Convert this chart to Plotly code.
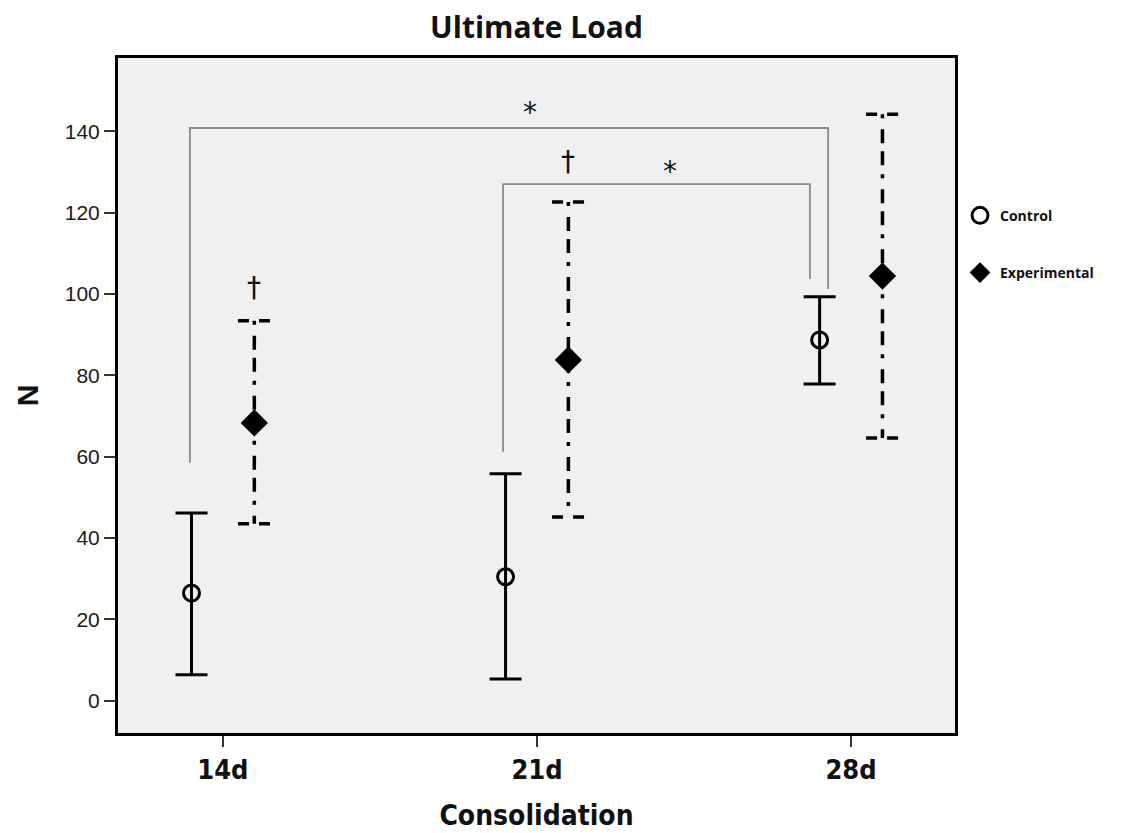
import plotly.graph_objects as go

# ---- data ----
categories = ["14d", "21d", "28d"]
cat_pos = [0, 1, 2]
group_offset = {"Control": -0.1, "Experimental": 0.1}

control_mean = [26.5, 30.5, 88.7]
control_lower = [6.4, 5.4, 77.9]
control_upper = [46.2, 55.8, 99.3]

exp_mean = [68.3, 83.8, 104.4]
exp_lower = [43.5, 45.2, 64.6]
exp_upper = [93.4, 122.6, 144.2]

# significance brackets: (x_left, y_left_end, x_right, y_right_end, y_top)
brackets = [
    (-0.105, 58.5, 1.927, 101.2, 140.8),
    (0.892, 61.2, 1.869, 103.7, 127.0),
]
# markers text (x, y, text)
sig_marks = [
    (0.978, 144.5, "*"),
    (1.424, 130.0, "*"),
    (1.099, 132.5, "†"),
    (0.099, 101.5, "†"),
]

y_ticks = [0, 20, 40, 60, 80, 100, 120, 140]

# ---- figure ----
fig = go.Figure()

cx = [p + group_offset["Control"] for p in cat_pos]
ex = [p + group_offset["Experimental"] for p in cat_pos]

# bracket lines
for (xl, yl, xr, yr, yt) in brackets:
    fig.add_trace(go.Scatter(
        x=[xl, xl, xr, xr], y=[yl, yt, yt, yr], mode="lines",
        line=dict(color="#8a8a8a", width=1.8), showlegend=False, hoverinfo="skip"))

# experimental dashed error bars
cap_half = 0.052
dash_v = "4px,11px,14px,8px,14px,9px"
for x, lo, hi in zip(ex, exp_lower, exp_upper):
    fig.add_trace(go.Scatter(
        x=[x, x], y=[hi, lo], mode="lines",
        line=dict(color="black", width=3.5, dash=dash_v),
        showlegend=False, hoverinfo="skip"))
    for yc in (hi, lo):
        fig.add_trace(go.Scatter(
            x=[x - cap_half, x + cap_half], y=[yc, yc], mode="lines",
            line=dict(color="black", width=3.5, dash="11px,10px"),
            showlegend=False, hoverinfo="skip"))

# control with solid error bars
fig.add_trace(go.Scatter(
    x=cx, y=control_mean, mode="markers", name="Control",
    marker=dict(symbol="circle-open", size=16, color="black",
                line=dict(width=3, color="black")),
    error_y=dict(type="data", symmetric=False,
                 array=[u - m for u, m in zip(control_upper, control_mean)],
                 arrayminus=[m - l for m, l in zip(control_mean, control_lower)],
                 color="black", thickness=3, width=16),
    legendgroup="c"))

# experimental means
fig.add_trace(go.Scatter(
    x=ex, y=exp_mean, mode="markers", name="Experimental",
    marker=dict(symbol="diamond", size=21, color="black"),
    legendgroup="e"))

for (x, y, t) in sig_marks:
    fig.add_annotation(x=x, y=y, text=t, showarrow=False, xref="x", yref="y",
                       font=dict(family="DejaVu Sans", size=28, color="#111"))

narrow = "Liberation Sans Narrow, DejaVu Sans Condensed, Arial Narrow, sans-serif"

fig.update_layout(
    width=1125, height=833,
    margin=dict(l=118, r=170, t=58, b=100, autoexpand=False),
    paper_bgcolor="white", plot_bgcolor="#f0f0f0",
    title=dict(text="<b>Ultimate Load</b>", x=0.5, xref="paper", xanchor="center",
               y=1 - 27 / 833, yref="container", yanchor="middle",
               font=dict(family="Open Sans", size=30, color="#111")),
    xaxis=dict(range=[-0.334, 2.331], tickvals=cat_pos, ticktext=categories,
               showgrid=False, zeroline=False, automargin=False,
               showline=True, mirror=True, linecolor="black", linewidth=3,
               ticks="outside", ticklen=11, tickwidth=1.5, tickcolor="#333",
               tickfont=dict(family=narrow, size=27, color="#111", weight="bold"),
               title=dict(text="Consolidation", standoff=21,
                          font=dict(family=narrow, size=28, color="#111", weight="bold"))),
    yaxis=dict(range=[-7.9, 158.0], tickvals=y_ticks,
               showgrid=False, zeroline=False, automargin=False,
               showline=True, mirror=True, linecolor="black", linewidth=3,
               ticks="outside", ticklen=11, tickwidth=1.5, tickcolor="#333",
               tickfont=dict(family="Liberation Sans", size=21, color="#1a1a1a"),
               title=dict(text="N", standoff=18,
                          font=dict(family="Liberation Sans", size=30, color="#111", weight="bold"))),
    legend=dict(x=1.006, xanchor="left", y=0.79, yanchor="top",
                bgcolor="rgba(0,0,0,0)", tracegroupgap=36,
                font=dict(family="Open Sans", size=14, color="#111", weight="bold")),
    showlegend=True,
)

fig.write_html("out.html")
